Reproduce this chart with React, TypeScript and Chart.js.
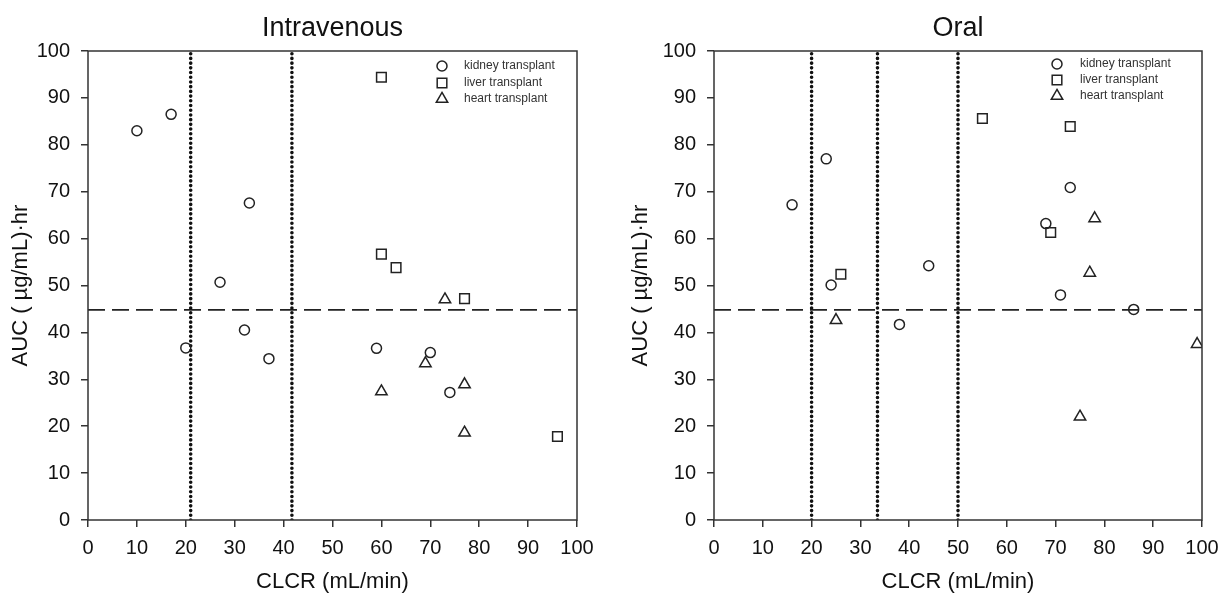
import React, { useEffect, useRef } from "react";
import { Chart, registerables } from "chart.js";

Chart.register(...registerables);

// ---------- data ----------
const xTicks = [0, 10, 20, 30, 40, 50, 60, 70, 80, 90, 100];
const yTicks = [0, 10, 20, 30, 40, 50, 60, 70, 80, 90, 100];
const groupLabels = ["kidney transplant", "liver transplant", "heart transplant"];
const aucThreshold = 44.8;

// Intravenous
const ivKidneyX = [10, 17, 33, 27, 32, 20, 37, 59, 70, 74];
const ivKidneyY = [83, 86.5, 67.6, 50.7, 40.5, 36.7, 34.4, 36.6, 35.7, 27.2];
const ivLiverX = [60, 60, 63, 77, 96];
const ivLiverY = [94.4, 56.7, 53.8, 47.2, 17.8];
const ivHeartX = [73, 69, 60, 77, 77];
const ivHeartY = [47, 33.4, 27.4, 28.9, 18.6];
const ivCutoffs = [21, 41.7];

// Oral
const oralKidneyX = [16, 23, 24, 44, 38, 68, 73, 71, 86];
const oralKidneyY = [67.2, 77, 50.1, 54.2, 41.7, 63.2, 70.9, 48, 44.9];
const oralLiverX = [55, 73, 69, 26];
const oralLiverY = [85.6, 83.9, 61.3, 52.4];
const oralHeartX = [25, 78, 77, 75, 99];
const oralHeartY = [42.6, 64.3, 52.7, 22, 37.5];
const oralCutoffs = [20, 33.5, 50];

const FONT = "'Liberation Sans', Arial, Helvetica, sans-serif";
const INK = "#222";

const pts = (xs: number[], ys: number[]) => xs.map((x, i) => ({ x, y: ys[i] }));

const markerStyles = [
  { pointStyle: "circle", radius: 5 },
  { pointStyle: "rect", radius: 6.8 },
  { pointStyle: "triangle", radius: 6.6 },
];

function drawMarker(ctx: CanvasRenderingContext2D, style: string, r: number, x: number, y: number) {
  ctx.beginPath();
  if (style === "circle") {
    ctx.arc(x, y, r, 0, Math.PI * 2);
  } else if (style === "rect") {
    const s = Math.SQRT1_2 * r;
    ctx.rect(x - s, y - s, 2 * s, 2 * s);
  } else {
    let a = 0;
    ctx.moveTo(x + Math.sin(a) * r, y - Math.cos(a) * r);
    a += (2 * Math.PI) / 3;
    ctx.lineTo(x + Math.sin(a) * r, y - Math.cos(a) * r);
    a += (2 * Math.PI) / 3;
    ctx.lineTo(x + Math.sin(a) * r, y - Math.cos(a) * r);
    ctx.closePath();
  }
  ctx.stroke();
}

type PanelProps = {
  title: string;
  groups: { x: number[]; y: number[] }[];
  cutoffs: number[];
  left: number;
  width: number;
  areaLeft: number;
  areaRight: number;
  yTitleX: number;
  legendMarkerDx: number;
  legendTextDx: number;
  legendRowY: number[];
};

function Panel(p: PanelProps) {
  const ref = useRef<HTMLCanvasElement | null>(null);

  useEffect(() => {
    if (!ref.current) return;
    const top = 51;
    const bottom = 520;
    const H = 594;

    const datasets: any[] = [];
    p.groups.forEach((g, i) => {
      datasets.push({
        type: "scatter",
        label: groupLabels[i],
        data: pts(g.x, g.y),
        pointStyle: markerStyles[i].pointStyle,
        pointRadius: markerStyles[i].radius,
        pointHoverRadius: markerStyles[i].radius,
        pointBorderWidth: 1.5,
        borderColor: INK,
        backgroundColor: "rgba(0,0,0,0)",
        showLine: false,
      });
    });
    p.cutoffs.forEach((c) => {
      datasets.push({
        type: "line",
        label: "cutoff",
        data: [
          { x: c, y: 0 },
          { x: c, y: 100 },
        ],
        borderColor: "#111",
        borderWidth: 3.6,
        borderDash: [0.01, 4.7],
        borderCapStyle: "round",
        pointRadius: 0,
        fill: false,
      });
    });
    datasets.push({
      type: "line",
      label: "threshold",
      data: [
        { x: 0, y: aucThreshold },
        { x: 100, y: aucThreshold },
      ],
      borderColor: "#222",
      borderWidth: 1.8,
      borderDash: [17, 7],
      pointRadius: 0,
      fill: false,
    });

    const textPlugin = {
      id: "panelText",
      afterDraw(chart: any) {
        const ctx = chart.ctx as CanvasRenderingContext2D;
        const a = chart.chartArea;
        ctx.save();
        // frame
        ctx.strokeStyle = "#333";
        ctx.lineWidth = 1.5;
        ctx.strokeRect(a.left, a.top, a.right - a.left, a.bottom - a.top);
        // title
        ctx.fillStyle = "#111";
        ctx.textAlign = "center";
        ctx.textBaseline = "alphabetic";
        ctx.font = `27px ${FONT}`;
        ctx.fillText(p.title, (a.left + a.right) / 2, 36);
        // x title
        ctx.font = `22px ${FONT}`;
        ctx.fillText("CLCR (mL/min)", (a.left + a.right) / 2, 588);
        // y title
        ctx.save();
        ctx.translate(p.yTitleX, (a.top + a.bottom) / 2);
        ctx.rotate(-Math.PI / 2);
        ctx.textBaseline = "middle";
        ctx.fillText("AUC ( µg/mL)·hr", 0, 0);
        ctx.restore();
        // legend
        ctx.font = `12px ${FONT}`;
        ctx.textAlign = "left";
        ctx.textBaseline = "middle";
        ctx.strokeStyle = INK;
        ctx.lineWidth = 1.5;
        groupLabels.forEach((lab, i) => {
          const y = a.top + p.legendRowY[i];
          drawMarker(ctx, markerStyles[i].pointStyle, markerStyles[i].radius, a.right - p.legendMarkerDx, y);
          ctx.fillStyle = "#333";
          ctx.fillText(lab, a.right - p.legendTextDx, y);
        });
        ctx.restore();
      },
    };

    const scaleCommon = (ticks: number[]) => ({
      type: "linear",
      min: 0,
      max: 100,
      afterBuildTicks: (s: any) => {
        s.ticks = ticks.map((v) => ({ value: v }));
      },
      grid: {
        drawOnChartArea: false,
        drawTicks: true,
        tickLength: 7,
        color: "#333",
        lineWidth: 1.5,
      },
      border: { display: false },
    });

    const chart = new Chart(ref.current, {
      type: "scatter",
      data: { datasets },
      options: {
        animation: false,
        responsive: false,
        devicePixelRatio: 1,
        layout: {
          padding: { left: 0, right: p.width - p.areaRight, top: top, bottom: 0 },
        },
        plugins: {
          legend: { display: false },
          title: { display: false },
          tooltip: { enabled: false },
        },
        scales: {
          x: {
            ...scaleCommon(xTicks),
            position: "bottom",
            ticks: {
              font: { family: FONT, size: 20 },
              color: "#111",
              padding: 9,
              maxRotation: 0,
              autoSkip: false,
            },
            afterFit: (s: any) => {
              s.height = H - bottom;
              s.paddingLeft = 0;
              s.paddingRight = 0;
            },
          },
          y: {
            ...scaleCommon(yTicks),
            position: "left",
            ticks: {
              font: { family: FONT, size: 20 },
              color: "#111",
              padding: 11,
              autoSkip: false,
            },
            afterFit: (s: any) => {
              s.width = p.areaLeft;
              s.paddingTop = 0;
              s.paddingBottom = 0;
            },
          },
        },
      } as any,
      plugins: [textPlugin],
    });
    return () => chart.destroy();
  }, []);

  return (
    <canvas
      ref={ref}
      width={p.width}
      height={594}
      style={{ position: "absolute", left: p.left, top: 0, width: p.width, height: 594, display: "block" }}
    />
  );
}

export default function App() {
  useEffect(() => {
    document.body.style.margin = "0";
    document.body.style.background = "#fff";
  }, []);
  return (
    <div style={{ position: "relative", width: 1221, height: 594, background: "#fff", overflow: "hidden" }}>
      <Panel
        title="Intravenous"
        groups={[
          { x: ivKidneyX, y: ivKidneyY },
          { x: ivLiverX, y: ivLiverY },
          { x: ivHeartX, y: ivHeartY },
        ]}
        cutoffs={ivCutoffs}
        left={0}
        width={610}
        areaLeft={88}
        areaRight={577}
        yTitleX={21}
        legendMarkerDx={135}
        legendTextDx={113}
        legendRowY={[15, 32, 48]}
      />
      <Panel
        title="Oral"
        groups={[
          { x: oralKidneyX, y: oralKidneyY },
          { x: oralLiverX, y: oralLiverY },
          { x: oralHeartX, y: oralHeartY },
        ]}
        cutoffs={oralCutoffs}
        left={610}
        width={611}
        areaLeft={104}
        areaRight={592}
        yTitleX={31}
        legendMarkerDx={145}
        legendTextDx={122}
        legendRowY={[13, 29, 45]}
      />
    </div>
  );
}
